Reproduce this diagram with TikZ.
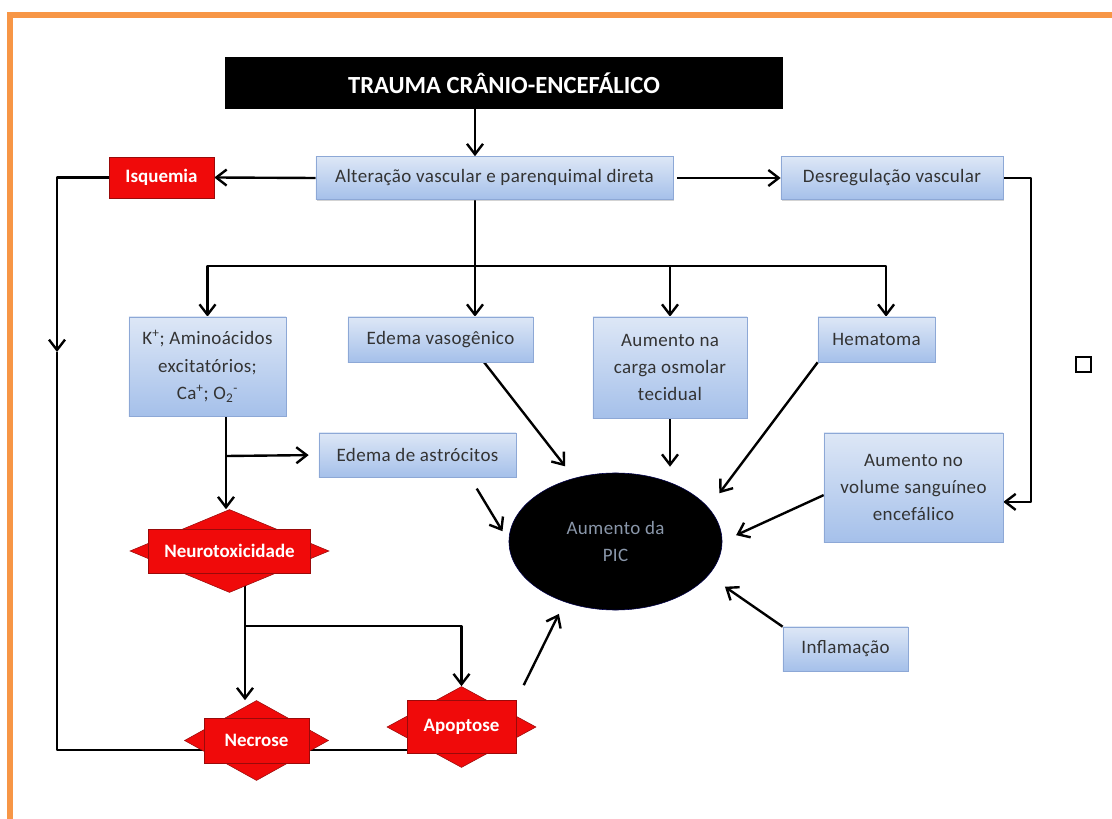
\documentclass[tikz,border=0pt]{standalone}
\usepackage{fontspec}
\setmainfont{Carlito}
\newfontfamily\boxfont[LetterSpace=2]{Carlito}
\usepackage{xcolor}
\usepackage{tikz}
\usetikzlibrary{arrows.meta, positioning, shapes.geometric, shadows, backgrounds}

\definecolor{boxtop}{HTML}{DDE7F6}
\definecolor{boxbot}{HTML}{A5C0EA}
\definecolor{boxline}{HTML}{8DA8D6}
\definecolor{boxtext}{HTML}{333333}
\definecolor{alarm}{HTML}{F00A0A}
\definecolor{alarmline}{HTML}{9A0A0A}
\definecolor{frameorange}{HTML}{F79646}
\definecolor{pictext}{HTML}{8A97AA}

\begin{document}
\begin{tikzpicture}[x=0.025cm, y=-0.025cm,
    arr/.style={-{Straight Barb[length=2.6mm,width=4mm]}, line width=1.7pt, line join=round},
    link/.style={line width=1.7pt, line join=round},
    infobox/.style={draw=boxline, top color=boxtop, bottom color=boxbot, text=boxtext,
        font=\boxfont\fontsize{13.5}{19.5}\selectfont, align=center, inner sep=0pt,
        drop shadow={shadow xshift=0.8pt, shadow yshift=-0.8pt, opacity=0.35}},
    alarmbox/.style={fill=alarm, draw=alarmline, text=white,
        font=\bfseries\fontsize{13.5}{16}\selectfont, inner sep=0pt},
    gem/.style={shape=diamond, fill=alarm, draw=alarmline, inner sep=0pt}]
    \useasboundingbox (0,0) rectangle (1112,819);

    % Frame
    \draw[frameorange, line width=3.6pt] (10,830) -- (10,15) -- (1125,15);

    % Top row
    \node[fill=black, minimum width=13.95cm, minimum height=1.275cm, text=white,
        font=\bfseries\fontsize{17.5}{20}\selectfont] (title) at (504,83) {TRAUMA CRÂNIO-ENCEFÁLICO};
    \node[infobox, minimum width=8.925cm, minimum height=1.075cm] (alter) at (494.5,178) {Alteração vascular e parenquimal direta};
    \node[alarmbox, minimum width=2.625cm, minimum height=1.025cm] (isq) at (161.5,177.5) {Isquemia};
    \node[infobox, minimum width=5.55cm, minimum height=1.075cm] (desreg) at (892,178) {Desregulação vascular};

    % Second row
    \node[infobox, minimum width=3.925cm, minimum height=2.475cm] (kplus) at (207.5,366.5)
        {K\textsuperscript{+}; Aminoácidos\\excitatórios;\\Ca\textsuperscript{+}; O\textsubscript{2}\textsuperscript{-}};
    \node[infobox, minimum width=4.625cm, minimum height=1.125cm] (vaso) at (440.5,339.5) {Edema vasogênico};
    \node[infobox, minimum width=3.85cm, minimum height=2.525cm] (carga) at (670,367.5) {Aumento na\\carga osmolar\\tecidual};
    \node[infobox, minimum width=2.925cm, minimum height=1.125cm] (hemat) at (876.5,339.5) {Hematoma};
    \node[draw, line width=1pt, minimum size=0.375cm, inner sep=0pt] (mark) at (1083.5,364.5) {};

    % Centre
    \node[infobox, minimum width=4.925cm, minimum height=1.1cm] (astro) at (417.5,455) {Edema de astrócitos};
    \node[infobox, minimum width=4.475cm, minimum height=2.725cm] (volume) at (913.5,487.5) {Aumento no\\volume sanguíneo\\encefálico};
    \node[ellipse, fill=black, draw=black!70!blue, minimum width=5.325cm, minimum height=3.425cm,
        inner sep=0pt, align=center, text=pictext, font=\boxfont\fontsize{13.5}{19.5}\selectfont] (pic) at (615.5,541.5) {Aumento da\\PIC};
    \node[infobox, minimum width=3.125cm, minimum height=1.1cm] (inflam) at (845.5,649) {Inflamação};

    % Cell damage
    \foreach \n/\x/\y/\dw/\dh/\rw/\rh/\t in {neuro/229.5/551/4.975/2.075/4.05/1.1/Neurotoxicidade,
            necrose/256.5/740.5/3.6/2.0/2.625/1.125/Necrose,
            apop/461.5/727/3.725/2.025/2.725/1.325/Apoptose} {
        \node[gem, minimum width=\dw cm, minimum height=\dh cm] (\n d) at (\x,\y) {};
        \node[alarmbox, minimum width=\rw cm, minimum height=\rh cm] (\n) at (\x,\y) {\t};
    }

    \coordinate (fork) at (475,266);
    \coordinate (kx) at (226,456);
    \coordinate (nx) at (245,626);
    \coordinate (rx) at (1031,180);
    \coordinate (lx) at (57,352);
    \coordinate (bot) at (461.5,750);

    \begin{scope}[on background layer]
        \draw[arr] (title.south -| fork) -- (alter.north -| fork);
        \draw[arr] (alter.west) -- (isq.east);
        \draw[arr, shorten <=0.1cm] (alter.east) -- (desreg.west);
        \draw[arr] (desreg.east) -| ([yshift=-0.36cm]volume.east -| rx) -- ([yshift=-0.36cm]volume.east);
        % loop from Isquemia
        \draw[arr] (isq.west) -| (lx);
        \draw[link] (lx) |- (bot);
        % fork
        \draw[arr] (alter.south -| fork) -- (vaso.north -| fork);
        \draw[arr] (fork) -| (kplus.north);
        \draw[arr] (fork) -| (carga.north);
        \draw[arr] (fork) -| ([xshift=0.24cm]hemat.north);
        % excitotoxic branch
        \draw[arr] (kplus.south -| kx) -- (neurod.north -| kx);
        \draw[arr, shorten >=0.25cm] (kx) -- (astro.west);
        \draw[link] (neuro -| nx) -- (nx);
        \draw[arr] (nx) -- (necrosed.north -| nx);
        \draw[arr] (nx) -| (apopd.north);
        % into PIC
        \draw[arr, shorten >=0.37cm] ([xshift=1.09cm]vaso.south) -- (pic.123);
        \draw[arr, shorten >=0.15cm] (carga.south) -- (carga.south |- pic.north);
        \draw[arr, shorten >=0.45cm] (hemat.south west) -- (pic.20);
        \draw[arr, shorten >=0.38cm] ([yshift=-0.19cm]volume.west) -- (pic.east);
        \draw[arr, shorten >=0.5cm] (inflam.north west) -- (pic.-20);
        \draw[arr, shorten <=0.33cm, shorten >=0.3cm] ([xshift=1.31cm]astro.south) -- (pic.west);
        \draw[arr, shorten <=0.42cm, shorten >=0.33cm] (apop.north east) -- (pic.230);
    \end{scope}
\end{tikzpicture}
\end{document}
